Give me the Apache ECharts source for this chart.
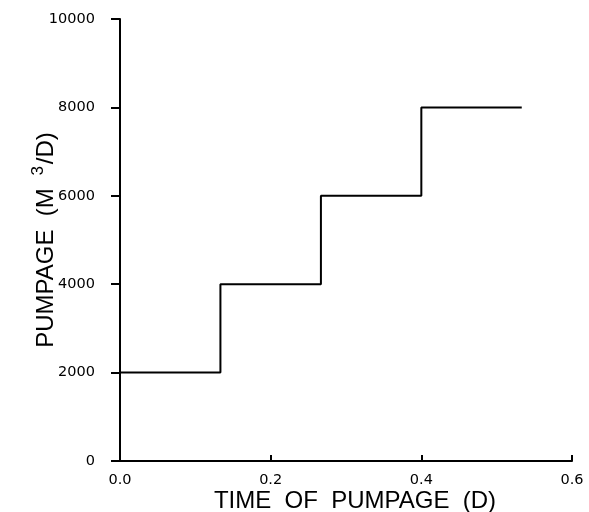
<!DOCTYPE html>
<html>
<head>
<meta charset="utf-8">
<script src="https://cdn.jsdelivr.net/npm/echarts@6/dist/echarts.min.js"></script>
<style>
  html, body { margin: 0; padding: 0; background: #fff; }
  #chart { width: 589px; height: 512px; }
</style>
</head>
<body>
<div id="chart"></div>
<script>
// Pumping schedule: rate held constant over each period, stepping up at period ends
const stepTimes = [0, 0.1333, 0.2667, 0.4, 0.5333];   // days
const stepRates = [2000, 4000, 6000, 8000, 8000];     // m3/day
const xTicks = [0, 0.2, 0.4, 0.6];
const yTicks = [0, 2000, 4000, 6000, 8000, 10000];

const TITLE_FONT = '"Liberation Sans", Arial, sans-serif';
const LABEL_FONT = '"DejaVu Sans", sans-serif';
const chart = echarts.init(document.getElementById('chart'), null, { renderer: 'canvas' });

chart.setOption({
  animation: false,
  backgroundColor: '#ffffff',
  grid: { left: 120, right: 17, top: 19, bottom: 51, containLabel: false, outerBoundsMode: 'none' },
  xAxis: {
    type: 'value',
    min: xTicks[0],
    max: xTicks[xTicks.length - 1],
    interval: 0.2,
    name: 'TIME  OF  PUMPAGE  (D)',
    nameLocation: 'middle',
    nameGap: 28,
    nameMoveOverlap: false,
    nameTextStyle: { fontFamily: TITLE_FONT, fontSize: 24, color: '#000', padding: [0, 0, 0, 18] },
    axisLine: { lineStyle: { color: '#000', width: 2 } },
    axisTick: { inside: true, length: 6, lineStyle: { color: '#000', width: 2 } },
    axisLabel: {
      fontFamily: LABEL_FONT, fontSize: 14.5, color: '#000', margin: 12,
      formatter: v => v.toFixed(1)
    },
    splitLine: { show: false }
  },
  yAxis: {
    type: 'value',
    min: yTicks[0],
    max: yTicks[yTicks.length - 1],
    interval: 2000,
    name: 'PUMPAGE  (M {sup|3}/D)',
    nameLocation: 'middle',
    nameGap: 57,
    nameMoveOverlap: false,
    nameTextStyle: {
      fontFamily: TITLE_FONT, fontSize: 24, color: '#000',
      rich: { sup: { fontFamily: TITLE_FONT, fontSize: 17, color: '#000', verticalAlign: 'top', padding: [0, 2, 16, 6] } }
    },
    axisLine: { lineStyle: { color: '#000', width: 2 } },
    axisTick: { inside: false, length: 9, lineStyle: { color: '#000', width: 2 } },
    axisLabel: {
      fontFamily: LABEL_FONT, fontSize: 14.5, color: '#000', margin: 25,
      formatter: v => String(v)
    },
    splitLine: { show: false }
  },
  series: [{
    type: 'line',
    step: 'end',
    data: stepTimes.map((t, i) => [t, stepRates[i]]),
    showSymbol: false,
    lineStyle: { color: '#000', width: 2 }
  }]
});
</script>
</body>
</html>
